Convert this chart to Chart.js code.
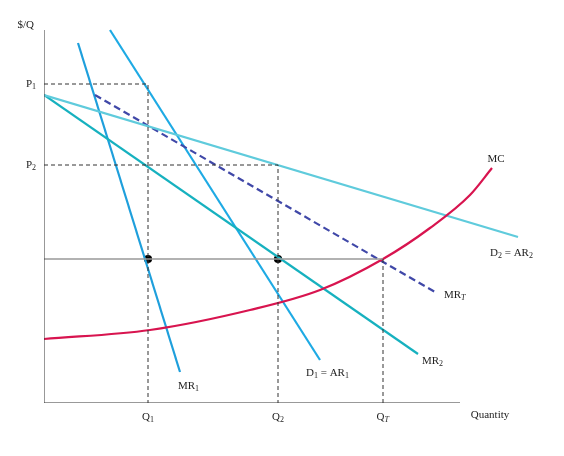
<!DOCTYPE html>
<html><head><meta charset="utf-8">
<script src="https://cdn.jsdelivr.net/npm/chart.js@4"></script>
<style>body{margin:0;background:#fff}</style></head>
<body><canvas id="c" width="564" height="456"></canvas>
<script>
// data coordinates: quantity (x) and price (y), arbitrary units
const D1 = [{x:66,y:373},{x:276,y:43}];
const MR1 = [{x:34,y:360},{x:136,y:31}];
const D2 = [{x:0,y:308},{x:474,y:166}];
const MR2 = [{x:0,y:308},{x:374,y:49}];
const MRT = [{x:51,y:308},{x:391,y:111}];
const MC = [{x:0,y:64},{x:106,y:73},{x:206,y:93},{x:276,y:113},{x:339,y:144},{x:386,y:175},{x:426,y:208},{x:448,y:235}];
const P1 = 319, P2 = 238, Pc = 144;
const Q1 = 104, Q2 = 234, QT = 339;
const xAxisEnd = 416, yAxisTop = 373;

const serif = 'Liberation Serif, DejaVu Serif, serif';
const ds = (data, color, extra={}) => Object.assign({data, borderColor:color, borderWidth:2.2, pointRadius:0, fill:false, showLine:true}, extra);
const labels = [
  {t:'$/Q', x:-10, y:378, a:'right'},
  {t:'P', s:'1', x:-8, y:P1, a:'right'},
  {t:'P', s:'2', x:-8, y:P2, a:'right'},
  {t:'Q', s:'1', x:Q1, y:-14, a:'center'},
  {t:'Q', s:'2', x:Q2, y:-14, a:'center'},
  {t:'Q', s:'T', x:QT, y:-14, a:'center'},
  {t:'Quantity', x:446, y:-12, a:'center'},
  {t:'MC', x:452, y:244, a:'center'},
  {t:'D', s:'2', t2:' = AR', s2:'2', x:446, y:150, a:'left'},
  {t:'MR', s:'T', x:400, y:108, a:'left'},
  {t:'MR', s:'2', x:378, y:42, a:'left'},
  {t:'D', s:'1', t2:' = AR', s2:'1', x:262, y:30, a:'left'},
  {t:'MR', s:'1', x:134, y:17, a:'left'}
];
const textPlugin = {id:'txt', afterDatasetsDraw(ch){
  const c=ch.ctx, xs=ch.scales.x, ys=ch.scales.y;
  c.save(); c.fillStyle='#222'; c.textBaseline='middle';
  labels.forEach(l=>{
    const parts=[[l.t,11,0],[l.s,8,3],[l.t2,11,0],[l.s2,8,3]].filter(p=>p[0]);
    let w=0; parts.forEach(p=>{c.font=p[1]+'px '+serif; w+=c.measureText(p[0]).width;});
    let x=xs.getPixelForValue(l.x), y=ys.getPixelForValue(l.y);
    if(l.a==='right') x-=w; else if(l.a==='center') x-=w/2;
    parts.forEach(p=>{c.font=(p[0]==='T'&&p[1]===8?'italic ':'')+p[1]+'px '+serif; c.fillText(p[0],x,y+p[2]); x+=c.measureText(p[0]).width;});
  });
  c.restore();
}};
const dash = {borderDash:[4,3], borderWidth:1, borderColor:'#333'};
new Chart(document.getElementById('c'), {
  type:'scatter',
  data:{datasets:[
    ds([{x:0,y:0},{x:xAxisEnd,y:0}],'#333',{borderWidth:1}),
    ds([{x:0,y:0},{x:0,y:yAxisTop}],'#333',{borderWidth:1}),
    ds([{x:0,y:P1},{x:Q1,y:P1},{x:Q1,y:0}],'#333',dash),
    ds([{x:0,y:P2},{x:Q2,y:P2},{x:Q2,y:0}],'#333',dash),
    ds([{x:QT,y:Pc},{x:QT,y:0}],'#333',dash),
    ds([{x:0,y:Pc},{x:QT,y:Pc}],'#999',{borderWidth:1.5}),
    ds(MC,'#d8144f',{cubicInterpolationMode:'monotone'}),
    ds(D2,'#5fcbdc'),
    ds(MR2,'#16b1bf'),
    ds(MRT,'#4048a8',{borderDash:[7,4]}),
    ds(MR1,'#1e9fdc'),
    ds(D1,'#1eaae4'),
    ds([{x:Q1,y:Pc},{x:Q2,y:Pc}],'#000',{showLine:false,pointRadius:3,pointBackgroundColor:'#000'})
  ]},
  options:{responsive:false, animation:false,
    layout:{padding:{left:44,right:40,top:20,bottom:53}},
    plugins:{legend:{display:false},tooltip:{enabled:false}},
    scales:{
      x:{type:'linear',min:0,max:480,display:false},
      y:{type:'linear',min:0,max:383,display:false}
    }},
  plugins:[textPlugin]
});
</script></body></html>
